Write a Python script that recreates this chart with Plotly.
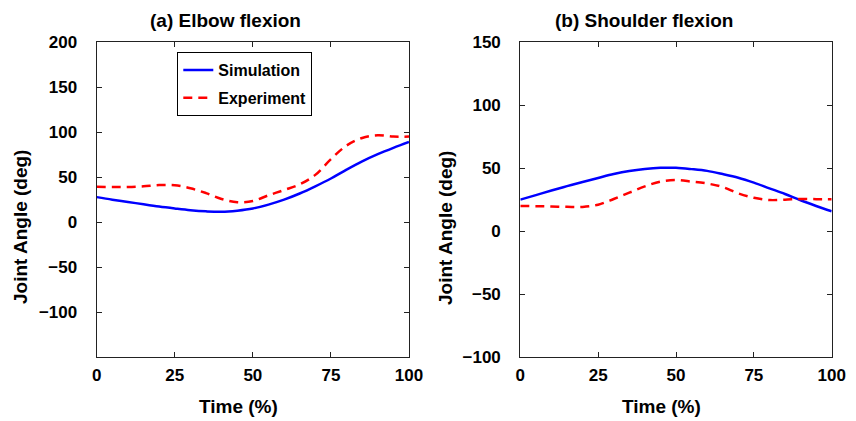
import plotly.graph_objects as go

# Normalised time (% of movement)
time_pct = [0, 5, 10, 15, 20, 25, 30, 35, 40, 45, 50, 55, 60, 65, 70, 75, 80, 85, 90, 95, 100]

# (a) Elbow flexion, degrees
elbow_sim = [27.8, 25.0, 22.5, 19.8, 17.3, 15.2, 13.3, 12.0, 11.5, 12.8, 15.2, 19.5, 25.0, 31.8,
             39.8, 48.5, 58.3, 67.5, 75.5, 82.5, 89.0]
elbow_exp = [39.2, 39.0, 39.0, 39.8, 41.2, 41.0, 37.6, 32.3, 25.8, 22.2, 23.5, 29.8, 35.7, 42.0,
             52.5, 70.0, 85.0, 93.5, 96.5, 95.0, 95.0]

# (b) Shoulder flexion, degrees
shoulder_sim = [25.0, 28.6, 32.2, 35.7, 39.0, 42.2, 45.3, 47.7, 49.3, 50.2, 50.2, 49.2, 47.8, 45.3,
                42.4, 38.5, 34.0, 29.5, 24.5, 20.0, 15.8]
shoulder_exp = [20.0, 19.8, 19.6, 19.3, 19.2, 21.0, 25.5, 30.5, 35.5, 39.3, 40.5, 39.3, 37.8, 35.0,
                30.0, 26.5, 24.7, 25.0, 25.6, 25.4, 25.3]

x_ticks = [0, 25, 50, 75, 100]
elbow_ticks = [-100, -50, 0, 50, 100, 150, 200]
shoulder_ticks = [-100, -50, 0, 50, 100, 150]

W, H = 856, 421
FONT = "Liberation Sans, Arial, sans-serif"
BLUE = "#0000FF"
RED = "#FF0000"

fig = go.Figure()

fig.add_trace(go.Scatter(x=time_pct, y=elbow_sim, mode="lines", name="Simulation",
                         line=dict(color=BLUE, width=2.5, shape="spline"),
                         xaxis="x", yaxis="y", legendgroup="sim"))
fig.add_trace(go.Scatter(x=time_pct, y=elbow_exp, mode="lines", name="Experiment",
                         line=dict(color=RED, width=2.5, dash="9px,6px", shape="spline"),
                         xaxis="x", yaxis="y", legendgroup="exp"))
fig.add_trace(go.Scatter(x=time_pct, y=shoulder_sim, mode="lines", name="Simulation",
                         line=dict(color=BLUE, width=2.5, shape="spline"),
                         xaxis="x2", yaxis="y2", showlegend=False))
fig.add_trace(go.Scatter(x=time_pct, y=shoulder_exp, mode="lines", name="Experiment",
                         line=dict(color=RED, width=2.5, dash="9px,6px", shape="spline"),
                         xaxis="x2", yaxis="y2", showlegend=False))

tick_font = dict(family=FONT, size=17, color="black", weight="bold")
axis_common = dict(showline=True, linecolor="#222222", linewidth=1.2, mirror="ticks",
                   ticks="inside", ticklen=5, tickcolor="#222222", tickwidth=1,
                   showgrid=False, zeroline=False, tickfont=tick_font, automargin=False)

ydom = [1 - 357.3 / H, 1 - 42 / H]

fig.update_layout(
    width=W, height=H,
    margin=dict(l=0, r=0, t=0, b=0, pad=0),
    paper_bgcolor="white", plot_bgcolor="white",
    xaxis=dict(domain=[96.7 / W, 409 / W], range=[0, 100], tickvals=x_ticks,
               anchor="y", ticklabelstandoff=2, **axis_common),
    yaxis=dict(domain=ydom, range=[-150, 200], tickvals=elbow_ticks,
               anchor="x", ticklabelstandoff=15, **axis_common),
    xaxis2=dict(domain=[520.3 / W, 831.7 / W], range=[0, 100], tickvals=x_ticks,
                anchor="y2", ticklabelstandoff=2, **axis_common),
    yaxis2=dict(domain=ydom, range=[-100, 150], tickvals=shoulder_ticks,
                anchor="x2", ticklabelstandoff=15, **axis_common),
    legend=dict(x=177.3 / W, y=1 - 52 / H, xanchor="left", yanchor="top",
                bordercolor="black", borderwidth=1, bgcolor="white",
                font=dict(family=FONT, size=16, color="black", weight="bold"),
                traceorder="grouped", tracegroupgap=4, itemwidth=30),
    showlegend=True,
)

label_font = dict(family=FONT, size=19, color="black", weight="bold")
annotations = [
    ("(a) Elbow flexion", 225.8, 20, 0),
    ("(b) Shoulder flexion", 644.3, 20, 0),
    ("Time (%)", 238.8, 406.7, 0),
    ("Time (%)", 661.7, 406.7, 0),
    ("Joint Angle (deg)", 20.5, 227.5, -90),
    ("Joint Angle (deg)", 445, 228, -90),
]
for text, px, py, ang in annotations:
    fig.add_annotation(text=text, x=px / W, y=1 - py / H, xref="paper", yref="paper",
                       xanchor="center", yanchor="middle", showarrow=False,
                       textangle=ang, font=label_font)

fig.write_html("out.html")
